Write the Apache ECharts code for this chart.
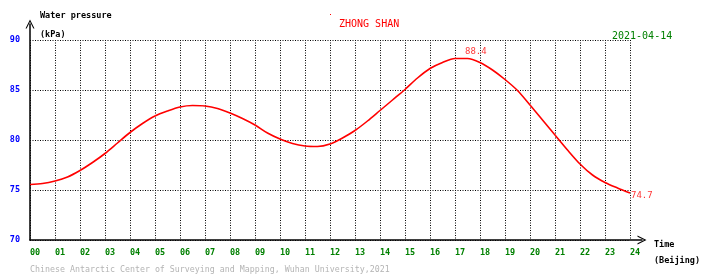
<!DOCTYPE html>
<html>
<head>
<meta charset="utf-8">
<script src="https://cdn.jsdelivr.net/npm/echarts@6/dist/echarts.min.js"></script>
<style>
html,body{margin:0;padding:0;background:#fff;}
#chart{width:710px;height:278px;}
</style>
</head>
<body>
<div id="chart"></div>
<script>
// ---- data ----
const hours = [0,0.5,1,1.5,2,2.5,3,3.5,4,4.5,5,5.5,6,6.5,7,7.5,8,8.5,9,9.5,10,10.5,11,11.5,12,12.5,13,13.5,14,14.5,15,15.5,16,16.5,17,17.5,18,18.5,19,19.5,20,20.5,21,21.5,22,22.5,23,23.5,24];
const pressure = [75.55,75.65,75.9,76.3,76.95,77.75,78.65,79.7,80.75,81.65,82.4,82.9,83.3,83.45,83.4,83.15,82.7,82.15,81.5,80.7,80.1,79.65,79.4,79.35,79.6,80.2,80.95,81.9,82.95,84.0,85.05,86.2,87.15,87.75,88.15,88.15,87.75,87.0,86.05,84.95,83.5,82.0,80.5,79.0,77.6,76.5,75.75,75.2,74.7];
const markHours = [17.4, 24];
const markValues = [88.4, 74.7];
const xTickLabels = ['00','01','02','03','04','05','06','07','08','09','10','11','12','13','14','15','16','17','18','19','20','21','22','23','24'];
const yTickValues = [70,75,80,85,90];
const yTickLabels = ['70','75','80','85','90'];

const FONT = '"DejaVu Sans Mono", monospace';
const chevron = 'path://M0,10 L5,0 L10,10 L8.7,10 L5,2.6 L1.3,10 Z';

const chart = echarts.init(document.getElementById('chart'));
chart.setOption({
  animation: false,
  backgroundColor: '#ffffff',
  grid: [
    {left: 30, right: 80, top: 40, bottom: 38},
    {left: 30, right: 68, top: 24, bottom: 38}
  ],
  xAxis: [
    {
      type: 'value', gridIndex: 0, min: 0, max: 24, interval: 1,
      axisLine: {show: false}, axisTick: {show: false},
      splitLine: {show: true, lineStyle: {color: '#000', width: 1, type: [1, 1.5]}},
      axisLabel: {
        color: '#008000', fontFamily: FONT, fontSize: 8.5, fontWeight: 'bold',
        margin: 8, align: 'left',
        formatter: v => xTickLabels[Math.round(v)] || ''
      }
    },
    {
      type: 'value', gridIndex: 1, min: 0, max: 1,
      axisLine: {show: true, symbol: ['none', chevron], symbolSize: [9, 11],
        lineStyle: {color: '#000', width: 1.5}},
      axisTick: {show: false}, axisLabel: {show: false}, splitLine: {show: false}
    }
  ],
  yAxis: [
    {
      type: 'value', gridIndex: 0, min: 70, max: 90, interval: 5,
      axisLine: {show: false}, axisTick: {show: false},
      splitLine: {show: true, lineStyle: {color: '#000', width: 1, type: [1, 1.5]}},
      axisLabel: {
        color: '#0000ff', fontFamily: FONT, fontSize: 8.5, fontWeight: 'bold',
        margin: 10, padding: [0, 0, 4, 0],
        formatter: v => { const i = yTickValues.indexOf(v); return i >= 0 ? yTickLabels[i] : ''; }
      }
    },
    {
      type: 'value', gridIndex: 1, min: 0, max: 1,
      axisLine: {show: true, symbol: ['none', chevron], symbolSize: [11, 9],
        lineStyle: {color: '#000', width: 1.5}},
      axisTick: {show: false}, axisLabel: {show: false}, splitLine: {show: false}
    }
  ],
  series: [
    {
      type: 'line', xAxisIndex: 0, yAxisIndex: 0,
      data: hours.map((h, i) => [h, pressure[i]]),
      smooth: 0.3, showSymbol: false,
      lineStyle: {color: '#ff0000', width: 1.6}
    },
    {
      type: 'scatter', xAxisIndex: 0, yAxisIndex: 0,
      data: markHours.map((h, i) => ({
        value: [h, markValues[i]],
        label: {offset: i === 0 ? [0, -4] : [1, 3]}
      })),
      symbolSize: 0,
      label: {
        show: true, color: '#ff0000', fontFamily: FONT, fontSize: 9,
        formatter: p => p.value[1].toFixed(1),
        position: 'inside', align: 'left', verticalAlign: 'middle'
      }
    }
  ],
  graphic: [
    {type: 'text', left: 40, top: 11, style: {text: 'Water pressure', font: 'bold 8.5px ' + FONT, fill: '#000'}},
    {type: 'text', left: 40, top: 30, style: {text: '(kPa)', font: 'bold 8.5px ' + FONT, fill: '#000'}},
    {type: 'text', left: 339, top: 19, style: {text: 'ZHONG SHAN', font: '10px ' + FONT, fill: '#ff0000'}},
    {type: 'text', left: 612, top: 31, style: {text: '2021-04-14', font: '10px ' + FONT, fill: '#008000'}},
    {type: 'text', left: 654, top: 240, style: {text: 'Time', font: 'bold 8.5px ' + FONT, fill: '#000'}},
    {type: 'text', left: 654, top: 256, style: {text: '(Beijing)', font: 'bold 8.5px ' + FONT, fill: '#000'}},
    {type: 'text', left: 30, top: 266, style: {text: 'Chinese Antarctic Center of Surveying and Mapping, Wuhan University,2021', font: '8.3px ' + FONT, fill: '#b4b4b4'}},
    {type: 'rect', left: 330, top: 14, shape: {width: 1, height: 1}, style: {fill: '#ff0000'}}
  ]
});
</script>
</body>
</html>
